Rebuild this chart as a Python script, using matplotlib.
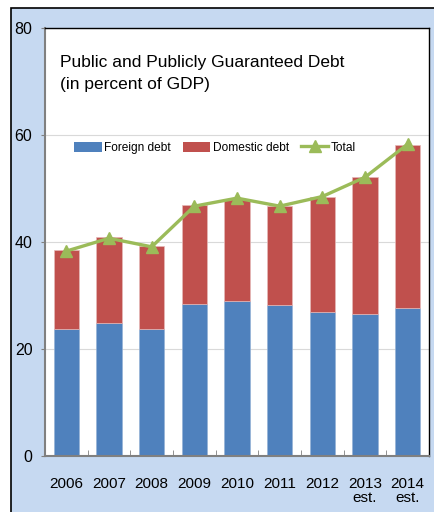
import matplotlib
matplotlib.use("Agg")
import matplotlib.pyplot as plt
import matplotlib.patches as patches
from matplotlib.lines import Line2D
import numpy as np

plt.rcParams['font.family'] = ['Liberation Sans', 'DejaVu Sans']

years = ["2006", "2007", "2008", "2009", "2010", "2011", "2012", "2013\nest.", "2014\nest."]
foreign_debt = [23.7, 24.8, 23.7, 28.5, 28.9, 28.3, 27.0, 26.5, 27.6]
domestic_debt = [14.8, 16.1, 15.6, 18.4, 19.1, 18.4, 21.4, 25.7, 30.5]
total = [38.3, 40.7, 39.1, 46.7, 48.2, 46.7, 48.5, 52.1, 58.3]

BLUE = "#4F81BD"
RED = "#C0504D"
GREEN = "#9BBB59"
BG = "#C6D9F1"

fig = plt.figure(figsize=(4.35, 5.12), dpi=100)
fig.patch.set_facecolor("white")

# light blue panel with black border
panel = patches.Rectangle((11 / 435, -0.05), 1.0, 1 - 8 / 512 + 0.05, transform=fig.transFigure,
                          facecolor=BG, edgecolor="black", linewidth=1.2, zorder=-10)
fig.patches.append(panel)

ax = fig.add_axes([45 / 435, 1 - 456 / 512, 384 / 435, 428 / 512])
ax.set_zorder(5)
ax.set_facecolor("white")

x = np.arange(len(years))
ax.bar(x, foreign_debt, width=0.6, color=BLUE, edgecolor="#95B3D7", linewidth=0.5, zorder=2)
ax.bar(x, domestic_debt, width=0.6, bottom=foreign_debt, color=RED, edgecolor="#E6B9B8",
       linewidth=0.5, zorder=2)
ax.plot(x, total, "-^", color=GREEN, linewidth=2.4, markersize=8, zorder=3)

ax.set_xlim(-0.5, len(years) - 0.5)
ax.set_ylim(0, 80)
ax.set_yticks([0, 20, 40, 60, 80])
ax.set_xticks(x)
ax.set_xticklabels(years, fontsize=11, linespacing=1.05)
ax.set_xticks(np.arange(-0.5, len(years), 1.0), minor=True)
ax.tick_params(axis="x", which="major", length=0, pad=15)
ax.tick_params(axis="x", which="minor", direction="in", length=4, color="#808080")
ax.tick_params(axis="y", direction="out", length=3, color="#808080", labelsize=11.5, pad=6)

ax.grid(axis="y", color="#D9D9D9", linewidth=0.8, zorder=0)
ax.set_axisbelow(True)

for side in ["left", "bottom"]:
    ax.spines[side].set_color("#808080")
    ax.spines[side].set_linewidth(1.5)
for side in ["top", "right"]:
    ax.spines[side].set_color("black")
    ax.spines[side].set_linewidth(1.0)

ax.text(0.04, 0.893, "Public and Publicly Guaranteed Debt\n(in percent of GDP)",
        transform=ax.transAxes, fontsize=12.5, va="center", ha="left", linespacing=1.6)

handles = [patches.Patch(facecolor=BLUE), patches.Patch(facecolor=RED),
           Line2D([0], [0], color=GREEN, linewidth=2.4, marker="^", markersize=8)]
ax.legend(handles, ["Foreign debt", "Domestic debt", "Total"], loc="center left",
          bbox_to_anchor=(0.076, 0.72), ncol=3, frameon=False, fontsize=8.6,
          handlelength=2.3, handleheight=0.9, handletextpad=0.2, columnspacing=1.0,
          borderpad=0, borderaxespad=0)

fig.savefig("out.png", dpi=100, facecolor=fig.get_facecolor())
